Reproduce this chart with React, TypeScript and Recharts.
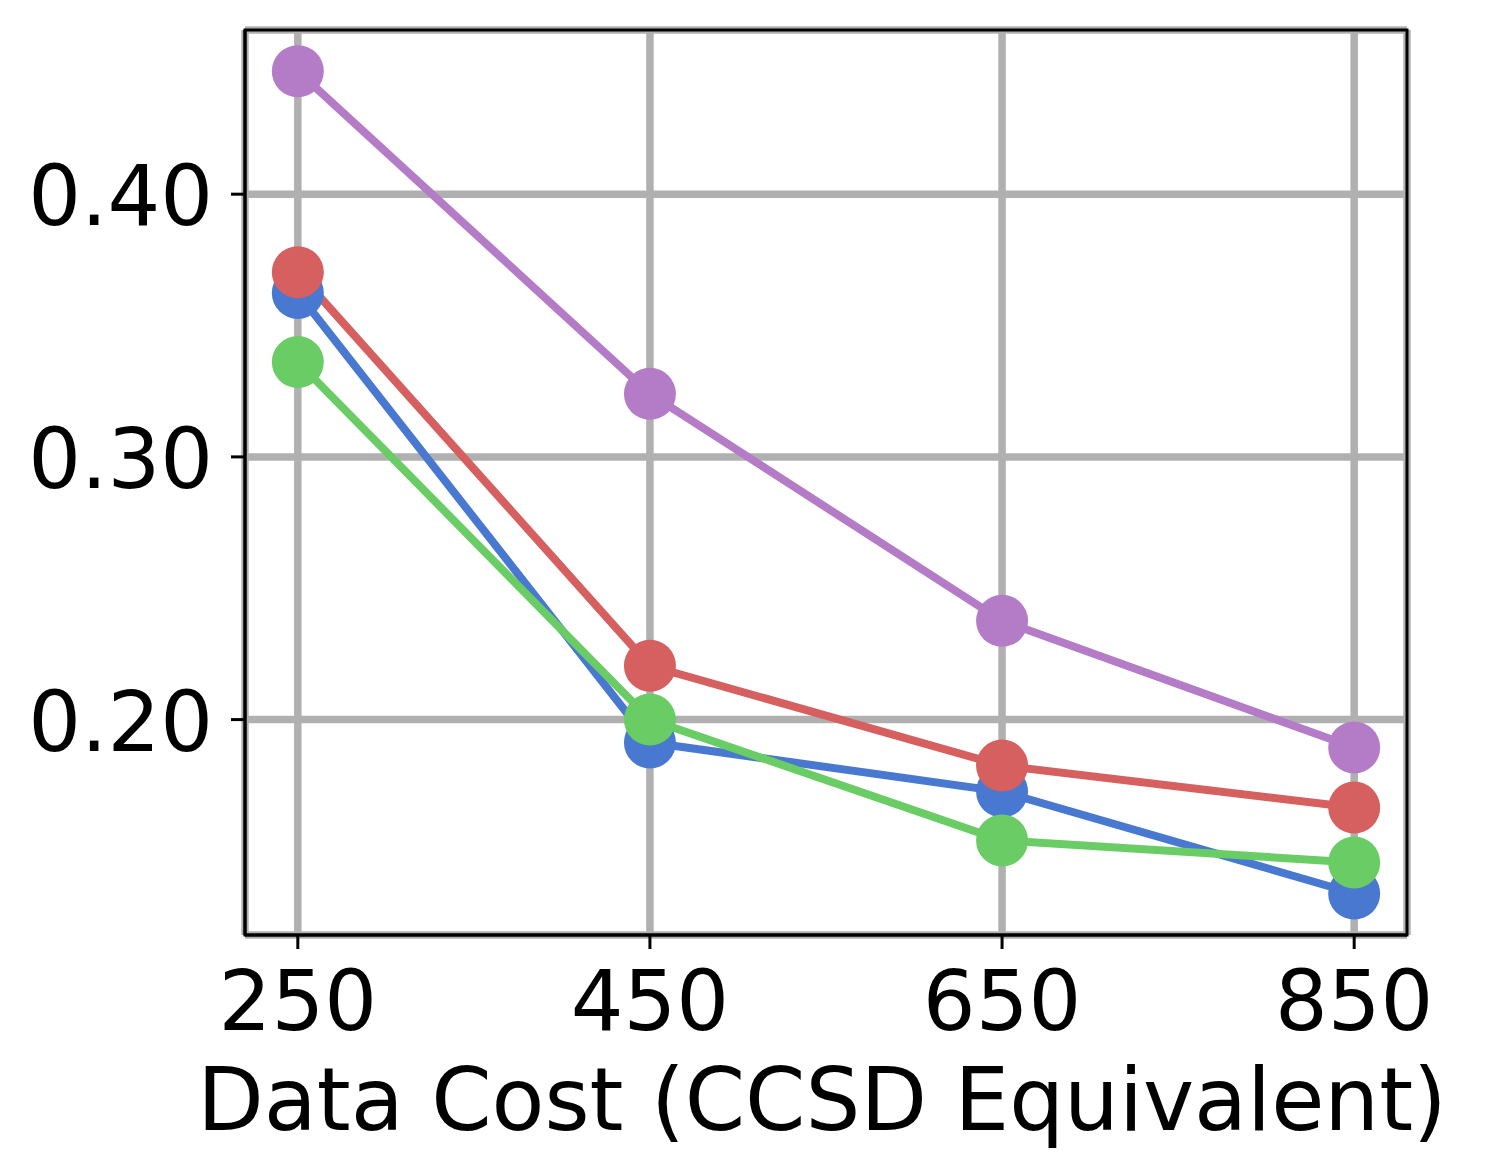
import React from 'react';
import { LineChart, Line, XAxis, YAxis, CartesianGrid, ReferenceArea } from 'recharts';

const costs = [250, 450, 650, 850];
const blueVals = [0.3624, 0.1913, 0.1726, 0.1338];
const redVals = [0.3703, 0.2205, 0.1825, 0.1665];
const greenVals = [0.3361, 0.2, 0.154, 0.1456];
const purpleVals = [0.4468, 0.324, 0.2376, 0.1894];
const xTicks = [250, 450, 650, 850];
const yTicks = [0.2, 0.3, 0.4];
const xLabel = 'Data Cost (CCSD Equivalent)';
const xDomain = [220, 880];
const yDomain = [0.118, 0.4625];

const data = costs.map((c, i) => ({
  cost: c,
  blue: blueVals[i],
  red: redVals[i],
  green: greenVals[i],
  purple: purpleVals[i],
}));

const FONT = 'DejaVu Sans';
const series = [
  { key: 'blue', color: '#4878d0' },
  { key: 'red', color: '#d65f5f' },
  { key: 'green', color: '#6acc64' },
  { key: 'purple', color: '#b47cc7' },
];

const XTick = (props: any) => {
  const { x, y, payload } = props;
  return (
    <text x={x} y={y + 81} textAnchor="middle" fontFamily={FONT} fontSize={83} fill="#000">
      {payload.value}
    </text>
  );
};

const YTick = (props: any) => {
  const { x, y, payload } = props;
  return (
    <text x={x} y={y + 31} textAnchor="end" fontFamily={FONT} fontSize={83} fill="#000">
      {Number(payload.value).toFixed(2)}
    </text>
  );
};

const XLabel = (props: any) => {
  const { viewBox } = props;
  const cx = viewBox.x + viewBox.width / 2 - 4;
  return (
    <text x={cx} y={viewBox.y + 195} textAnchor="middle" fontFamily={FONT} fontSize={86.5} fill="#000">
      {xLabel}
    </text>
  );
};

export default function App() {
  return (
    <div style={{ position: 'absolute', left: 0, top: 0, width: 1488, height: 1176, background: '#fff' }}>
      <LineChart width={1488} height={1176} data={data} margin={{ top: 30, right: 81, bottom: 0, left: 0 }}>
        <CartesianGrid stroke="#b0b0b0" strokeWidth={7.5} />
        <XAxis
          dataKey="cost"
          type="number"
          domain={xDomain}
          ticks={xTicks}
          height={241}
          tickSize={14}
          tickMargin={0}
          tick={<XTick />}
          axisLine={{ stroke: '#000', strokeWidth: 3 }}
          tickLine={{ stroke: '#000', strokeWidth: 3 }}
          label={<XLabel />}
        />
        <YAxis
          type="number"
          domain={yDomain}
          ticks={yTicks}
          width={245}
          tickSize={14}
          tickMargin={18}
          tick={<YTick />}
          axisLine={{ stroke: '#000', strokeWidth: 3 }}
          tickLine={{ stroke: '#000', strokeWidth: 3 }}
          allowDataOverflow
        />
        {series.map((s) => (
          <Line
            key={s.key}
            dataKey={s.key}
            stroke={s.color}
            strokeWidth={8}
            dot={{ r: 26, fill: s.color, stroke: 'none', strokeWidth: 0 }}
            activeDot={false}
            isAnimationActive={false}
            type="linear"
          />
        ))}
        <ReferenceArea
          x1={xDomain[0]}
          x2={xDomain[1]}
          y1={yDomain[0]}
          y2={yDomain[1]}
          fill="none"
          fillOpacity={0}
          stroke="#000"
          strokeWidth={3}
          ifOverflow="visible"
        />
      </LineChart>
    </div>
  );
}
